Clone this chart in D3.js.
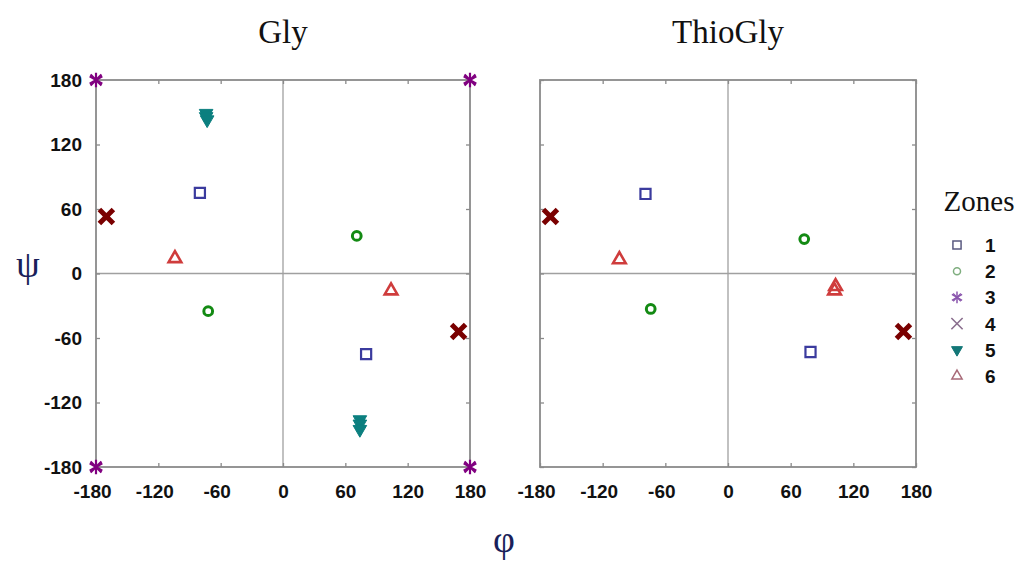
<!DOCTYPE html>
<html>
<head>
<meta charset="utf-8">
<script src="https://cdn.jsdelivr.net/npm/d3@7"></script>
<style>
  html,body{margin:0;padding:0;background:#fff;}
  svg{display:block;}
  .tick text{font-family:"Liberation Sans",Arial,sans-serif;font-weight:bold;font-size:19px;fill:#111;}
</style>
</head>
<body>
<div id="chart"></div>
<script>
"use strict";
// φ/ψ scatter, two panels (Gly, ThioGly), zones 1..6

const ZONES = ["1","2","3","4","5","6"];
const TICKS = [-180,-120,-60,0,60,120,180];
const PANELS = ["Gly","ThioGly"];

// Gly: one entry per point
const GLY_PHI  = [-80, 80,  71, -72, -180, 180, -180,  180, -170, 169, -74, -74, -73,   74,   74,   74, -104, 104];
const GLY_PSI  = [ 75,-75,  35, -35,  180, 180, -180, -180,   53, -54, 149, 146, 143, -136, -140, -145,   14, -16];
const GLY_ZONE = [  1,  1,   2,   2,    3,   3,    3,    3,    4,   4,   5,   5,   5,    5,    5,    5,    6,   6];

// ThioGly
const THIO_PHI  = [-79, 79, 73, -74, -170, 168, -104, 102, 103];
const THIO_PSI  = [ 74,-73, 32, -33,   53, -54,   13, -16, -12];
const THIO_ZONE = [  1,  1,  2,   2,    4,   4,    6,   6,   6];

const COLORS = ["#3b3b9e","#138a13","#800080","#7a0000","#0b7f7f","#cf3c3c"];
const LEGEND_COLORS = ["#5a5a80","#7fae7f","#8a55ad","#8a6e8e","#137777","#a86a78"];

const W = 1022, H = 562;
const svg = d3.select("#chart").append("svg").attr("width",W).attr("height",H);

const SERIF = "'Liberation Serif','Times New Roman',serif";

function sym(z){
  switch(z){
    case 1: return {type:d3.symbolSquare2, size:130, fill:false, sw:2.2, lsw:1.5};
    case 2: return {type:d3.symbolCircle, size:60, fill:false, sw:3, lsw:1.5};
    case 3: return {type:d3.symbolAsterisk, size:150, fill:false, sw:2.2, lsw:1.5};
    case 4: return {type:d3.symbolTimes, size:130, fill:false, sw:5, lsw:1.6};
    case 5: return {type:d3.symbolTriangle, size:80, fill:true, sw:1, lsw:1, rot:180};
    case 6: return {type:d3.symbolTriangle2, size:115, fill:false, sw:2.6, lsw:1.5};
  }
}

function drawMarker(g, z, color, scale){
  const k = scale || 1, s = sym(z), legend = k !== 1;
  const p = g.append("path")
    .attr("d", d3.symbol().type(s.type).size(s.size*k)())
    .attr("stroke", color).attr("stroke-width", legend ? s.lsw : s.sw)
    .attr("fill", s.fill ? color : "none");
  if(s.rot) p.attr("transform", `rotate(${s.rot})`);
  if(z===3){ // overlapped points at the corners make an 8-point star
    g.append("path").attr("d", d3.symbol().type(d3.symbolTimes).size(legend ? 40 : 80)())
      .attr("stroke", color).attr("stroke-width", legend ? 1.3 : 2.2).attr("fill","none");
  }
  return p;
}

const frames = [{x0:96, x1:470}, {x0:540, x1:916}];
const Y0 = 80, Y1 = 467;
const fmt = (d)=> String(d);   // plain hyphen minus, like the original

[[GLY_PHI,GLY_PSI,GLY_ZONE],[THIO_PHI,THIO_PSI,THIO_ZONE]].forEach(([phi,psi,zone],pi)=>{
  const f = frames[pi];
  const x = d3.scaleLinear().domain([-180,180]).range([f.x0,f.x1]);
  const y = d3.scaleLinear().domain([-180,180]).range([Y1,Y0]);
  const g = svg.append("g");

  // zero lines
  g.append("line").attr("x1",x(0)).attr("x2",x(0)).attr("y1",Y0).attr("y2",Y1).attr("stroke","#a0a0a0").attr("stroke-width",1.3);
  g.append("line").attr("x1",f.x0).attr("x2",f.x1).attr("y1",y(0)).attr("y2",y(0)).attr("stroke","#a0a0a0").attr("stroke-width",1.3);

  const axB = g.append("g").attr("transform",`translate(0,${Y1})`)
    .call(d3.axisBottom(x).tickValues(TICKS).tickFormat(fmt).tickSizeInner(-4).tickSizeOuter(0).tickPadding(18));
  axB.selectAll(".tick text").attr("dx",(d)=> d<0 ? "-4" : "0");
  g.append("g").attr("transform",`translate(0,${Y0})`)
    .call(d3.axisTop(x).tickValues(TICKS).tickSizeInner(-4).tickSizeOuter(0).tickFormat(""));
  const axL = g.append("g").attr("transform",`translate(${f.x0},0)`)
    .call(d3.axisLeft(y).tickValues(TICKS).tickFormat(fmt).tickSizeInner(-4).tickSizeOuter(0).tickPadding(14));
  if(pi===1) axL.selectAll(".tick text").remove();
  g.append("g").attr("transform",`translate(${f.x1},0)`)
    .call(d3.axisRight(y).tickValues(TICKS).tickSizeInner(-4).tickSizeOuter(0).tickFormat(""));
  g.selectAll(".domain").remove();
  g.selectAll(".tick line").attr("stroke","#8a8a8a").attr("stroke-width",1.3);

  // frame
  g.append("rect").attr("x",f.x0).attr("y",Y0).attr("width",f.x1-f.x0).attr("height",Y1-Y0)
    .attr("fill","none").attr("stroke","#8a8a8a").attr("stroke-width",1.8);

  // title
  svg.append("text").attr("x",(f.x0+f.x1)/2).attr("y",43).attr("text-anchor","middle")
    .attr("font-family",SERIF).attr("font-size",33).attr("fill","#111").text(PANELS[pi]);

  // points
  phi.forEach((p,i)=>{
    const z = zone[i];
    const mg = g.append("g").attr("transform",`translate(${x(p)},${y(psi[i])})`);
    drawMarker(mg, z, COLORS[z-1]);
  });
});

// axis symbols
svg.append("text").attr("x",28).attr("y",277).attr("text-anchor","middle")
  .attr("font-family",SERIF).attr("font-size",38).attr("fill","#1a1f5a").text("ψ");
svg.append("text").attr("x",504).attr("y",552).attr("text-anchor","middle")
  .attr("font-family",SERIF).attr("font-size",38).attr("fill","#1a1f5a").text("φ");

// legend
svg.append("text").attr("x",979).attr("y",211).attr("text-anchor","middle")
  .attr("font-family",SERIF).attr("font-size",29).attr("fill","#111").text("Zones");
ZONES.forEach((lab,i)=>{
  const yy = 245 + i*26.2;
  const lg = svg.append("g").attr("transform",`translate(957,${yy})`);
  drawMarker(lg, i+1, LEGEND_COLORS[i], 0.65);
  svg.append("text").attr("x",985).attr("y",yy+7).attr("font-family","'Liberation Sans',Arial,sans-serif")
    .attr("font-weight","bold").attr("font-size",19).attr("fill","#111").text(lab);
});
</script>
</body>
</html>
